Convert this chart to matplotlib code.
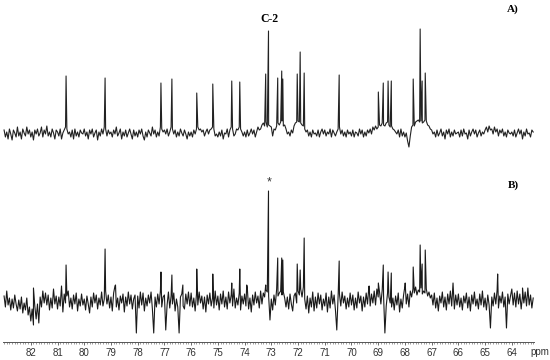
import numpy as np
import matplotlib
matplotlib.use('Agg')
import matplotlib.pyplot as plt
from matplotlib.ticker import MultipleLocator

# ppm range of the sampled baseline (0.05 ppm steps)
ppm_start = 83.0
ppm_end = 63.2

# spectrum A) baseline noise, one row per ppm
noise_a = [
    3, -4, 1, -6, 4, -1, -7, 3, 0, -4, 6, -3, 1, -6, 4, 0, -3, 6, -1, 3,
    -4, 1, -7, 3, -1, 4, -3, 0, 6, -4, 3, -1, 7, -3, 1, -4, 4, 0, -6, 3,
    1, -3, 4, -6, 0, 3, 6, 4, -1, 1, -4, 3, -6, 4, -3, 1, -4, 3, 0, -1,
    4, -3, 1, -6, 3, -1, 4, -4, 0, 3, -7, 1, -3, 4, -1, 6, 4, -3, 3, -1,
    1, -4, 3, -1, 6, -3, 0, 4, -6, 1, -3, 3, -4, 0, 4, -1, -6, 3, -3, 1,
    -4, 3, -1, 4, -3, -7, 1, -4, 3, 0, -3, 6, -1, 3, -4, 1, -3, 6, 4, 1,
    3, -1, 4, -3, 1, 6, 4, -1, 3, -4, 1, -3, 4, 0, -3, 3, -1, -6, 1, -3,
    1, -4, 3, -1, 4, 6, 3, 4, 1, 3, -3, 1, 4, -1, 3, 4, 6, 4, -3, -1,
    -4, 1, -3, 3, -6, 0, -1, 4, -4, 3, 6, 4, -3, -1, 4, 3, 6, 4, 1, -3,
    1, -4, 3, -3, 0, 4, -1, 3, -4, 1, 6, 3, 4, 8, 10, 7, 11, 6, 8, 7,
    6, -3, 4, 3, 7, 10, 8, 11, 12, 7, 8, 4, -1, 1, -3, 3, 0, 7, 10, 11,
    12, 11, 10, 8, 7, 4, 1, 3, -3, 1, -4, 3, -1, 0, -3, 3, -4, 1, 4, -1,
    3, -3, 1, -1, 4, -4, 3, 0, -3, 1, 4, 6, -1, 3, -3, 1, -4, 3, -1, 1,
    -3, 3, -4, 1, 0, -3, 4, -1, 3, -4, 1, -3, 3, 0, 4, -1, 6, 3, 7, 4,
    6, 8, 7, 10, 8, 7, 10, 11, 8, 6, 7, 4, 3, 1, -1, 3, -4, 4, -3, 1,
    -4, 0, -8, -14, -3, 6, 8, 7, 11, 12, 13, 11, 12, 10, 11, 13, 12, 8, 7, 4,
    3, -1, 1, -4, 3, -3, 0, 4, -3, 1, -6, 3, -1, 4, -4, 1, -3, 3, -1, 0,
    1, -4, 3, -3, 4, -1, 0, -6, 3, -3, 1, 4, -1, 3, -4, 0, 3, -3, 1, -1,
    3, 6, 1, 7, 3, 4, -1, 6, 1, 4, -3, 3, 0, 4, -3, 1, -4, 3, 0, -1,
    1, -3, 3, -4, 0, 4, -1, 3, -6, 1, -3, 4, -1, 0, -4, 3, 1,
]

# spectrum B) baseline noise
noise_b = [
    5, -6, 10, -4, 3, -9, 2, -7, 6, -3, -10, 1, -8, 4, -12, -2, -9, 3, -14, -6,
    -20, -8, -24, -5, -18, -3, -22, 4, -6, 10, -2, 8, -4, 6, -9, 3, -7, 12, -3, 5,
    -8, 4, -5, 15, -11, 7, -2, 5, 10, -6, 3, -8, 6, -3, 8, -10, 2, -5, 7, -4,
    2, -9, 5, -3, -12, 4, -6, 8, -2, 6, -8, 3, -4, 9, -5, 2, 10, -3, 6, -7,
    4, -10, 8, 15, -6, 3, -9, 5, -2, 7, -11, 4, -5, 9, -3, 6, -8, 2, 6, -32,
    5, -7, 9, -4, 8, -10, 3, -5, 6, -2, 9, -8, -32, 4, -6, 7, -3, 10, -6, 4,
    6, -29, -4, 9, -7, 5, -3, 8, -10, 2, -6, -32, 4, 7, -5, -8, 7, -3, 9, -5,
    8, -6, 3, -10, 7, -4, 9, -2, 5, -8, 4, -11, 6, -3, 8, -5, 3, -7, 10, -4,
    5, -9, 7, -3, 10, -6, 4, -8, 9, -2, 6, -5, 12, -7, 3, -4, 8, -9, 5, -3,
    7, -5, 14, -8, 3, -11, 6, -4, 9, -2, 5, -7, 10, -3, 8, 4, 11, 9, 5, -19,
    2, -9, 6, -4, 12, 5, 8, 10, 6, 9, 3, -6, 4, -8, 7, -3, -10, 5, 8, -2,
    10, 6, 12, 4, 14, 2, -8, 5, -12, 3, -6, 9, -10, 4, -7, 8, -3, 6, -9, 2,
    -5, 8, -11, 4, -7, 10, -3, 6, -9, -29, 5, 7, -5, 9, -2, 5, -8, 3, -6, 8,
    -4, 6, -9, 3, -7, 9, -2, 5, -10, 4, -6, 8, -3, 14, -5, 7, -2, 10, -4, 12,
    4, 9, -3, 11, 6, -32, -5, 8, 4, -2, -6, 3, -9, 5, -4, 8, -11, 2, -7, 6,
    15, -3, 7, -6, 10, 4, 12, 8, 14, 6, 11, 9, 13, 7, 10, 8, 12, 5, 9, 3,
    6, -4, 8, -7, 3, -10, 5, -2, 9, -6, 4, -9, 7, -3, 10, -5, 18, -8, 6, -4,
    7, -6, 3, -9, 5, -2, 8, -7, 4, -10, 6, -3, 9, -5, 2, -8, 7, -4, 10, -6,
    3, -9, 6, -4, -27, 4, -5, 8, -3, 11, -7, 5, -2, 9, -6, 4, -27, 7, -3, 5,
    12, -4, 8, -6, 10, -3, 7, -8, 5, -2, 9, -5, 13, -4, 6, -7, 3,
]

# resolved lines
peaks_a_ppm = [80.68, 79.22, 77.13, 76.72, 75.79, 75.19, 74.48, 74.18, 73.21, 73.105,
               72.76, 72.61, 72.57, 72.03, 71.92, 71.77, 70.46, 68.995, 68.81, 68.63,
               68.51, 67.69, 67.43, 67.355, 67.24]
peaks_a_int = [57, 55, 50, 54, 40, 49, 52, 51, 59, 102,
               55, 62, 54, 59, 81, 60, 58, 41, 50, 52,
               52, 54, 104, 52, 60]

peaks_b_ppm = [81.9, 80.68, 79.22, 78.83, 77.13, 76.72, 76.31, 75.79, 75.19, 74.48,
               74.18, 73.92, 73.21, 73.105, 72.76, 72.61, 72.57, 72.03, 71.92, 71.77,
               70.46, 69.34, 68.995, 68.81, 68.63, 68.51, 67.99, 67.69, 67.43, 67.355,
               67.24, 66.2, 64.53, 63.6]
peaks_b_int = [13, 36, 52, 16, 29, 26, 16, 32, 27, 18,
               32, 16, 16, 110, 43, 43, 41, 37, 31, 63,
               40, 15, 18, 36, 29, 28, 18, 34, 56, 37,
               51, 18, 27, 13]

baseline_a = 209
baseline_b = 41


def trace(noise, pk_ppm, pk_int, base):
    grid = np.linspace(ppm_start, ppm_end, len(noise))
    x = np.concatenate([grid, pk_ppm])
    y = np.concatenate([np.array(noise) + base, np.array(pk_int) + base])
    order = np.argsort(-x, kind='stable')
    return x[order], y[order]


fig = plt.figure(figsize=(5.5, 3.6), dpi=100)
ax = fig.add_axes([3 / 550, 18 / 360, 531 / 550, 342 / 360])

xa, ya = trace(noise_a, peaks_a_ppm, peaks_a_int, baseline_a)
xb, yb = trace(noise_b, peaks_b_ppm, peaks_b_int, baseline_b)
ax.plot(xa, ya, color='#222222', lw=0.8)
ax.plot(xb, yb, color='#1a1a1a', lw=0.8)

ax.set_xlim(83.04, 63.17)
ax.set_ylim(0, 342)
for s in ['left', 'right', 'top']:
    ax.spines[s].set_visible(False)
ax.spines['bottom'].set_linewidth(0.7)
ax.spines['bottom'].set_color('#555555')
ax.set_yticks([])
ax.set_xticks(range(64, 83))
ax.xaxis.set_minor_locator(MultipleLocator(0.1))
ax.tick_params(axis='x', which='major', length=2.5, width=0.6, color='#555555',
               labelsize=7, labelcolor='#333333', pad=2)
ax.tick_params(axis='x', which='minor', length=1.2, width=0.5, color='#777777')
for lab in ax.get_xticklabels():
    lab.set_family('Liberation Sans')

fig.text(540 / 550, 1 - 352 / 360, 'ppm', ha='center', va='center', fontsize=7,
         color='#333333', family='Liberation Sans')
fig.text(269 / 550, 1 - 19 / 360, 'C-2', ha='center', va='center', fontsize=8.5,
         fontweight='bold', family='Liberation Serif')
fig.text(269 / 550, 1 - 182 / 360, '*', ha='center', va='center', fontsize=9,
         color='#333333', family='Liberation Sans')
fig.text(513 / 550, 1 - 9 / 360, 'A)', ha='center', va='center', fontsize=8,
         fontweight='bold', family='Liberation Serif')
fig.text(513 / 550, 1 - 185 / 360, 'B)', ha='center', va='center', fontsize=8,
         fontweight='bold', family='Liberation Serif')

fig.savefig('out.png', dpi=100)
